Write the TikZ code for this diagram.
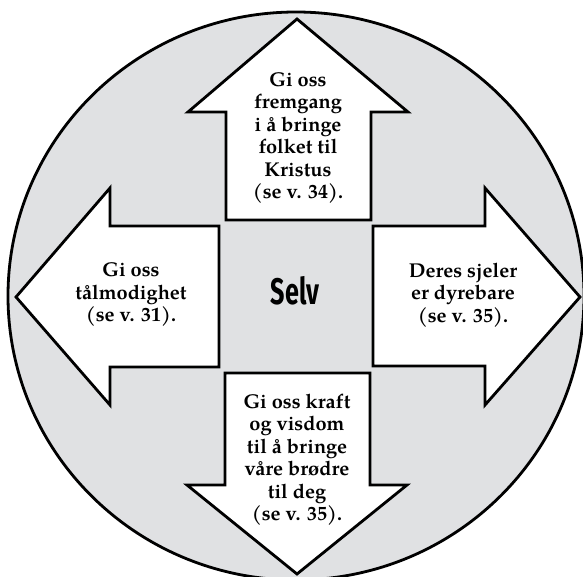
\documentclass[tikz,border=0pt]{standalone}
\usepackage{fontspec}
\setmainfont{texgyrepagella}[Extension=.otf, UprightFont=*-regular, BoldFont=*-bold]
\newfontfamily\selvfont[FakeStretch=0.68]{Fira Sans}
\definecolor{disc}{RGB}{224,225,227}

\begin{document}
\begin{tikzpicture}[x=1pt,y=-1pt,
    arrowshape/.style={fill=white,draw=black,line width=2.8pt},
    label/.style={align=center,font=\fontsize{20}{22.5}\selectfont\bfseries}]
    \useasboundingbox (0,0) rectangle (583,577);
    
    % Grey disc
    \filldraw[fill=disc,line width=2.8pt] (296,296) ellipse [x radius=288, y radius=284];
    
    % Four arrows
    \draw[arrowshape] (226,220) -- (226,112) -- (188,112) -- (297,19) -- (408,112) -- (371,112) -- (371,220) -- cycle;
    \draw[arrowshape] (225,373) -- (370,373) -- (370,485) -- (407,485) -- (297,574) -- (187,485) -- (225,485) -- cycle;
    \draw[arrowshape] (219,226) -- (110,226) -- (110,188) -- (16,297) -- (110,405) -- (110,367) -- (219,367) -- cycle;
    \draw[arrowshape] (373,226) -- (485,226) -- (485,188) -- (580,297) -- (485,405) -- (485,366) -- (373,366) -- cycle;
    
    % Labels
    \node[font=\selvfont\bfseries\fontsize{37}{40}\selectfont] (selv) at (295,291) {Selv};
    \node[label] (up) at (298,138) {Gi oss\\fremgang\\i å bringe\\folket til\\Kristus\\(se v. 34).};
    \node[label] (down) at (297,460) {Gi oss kraft\\og visdom\\til å bringe\\våre brødre\\til deg\\(se v. 35).};
    \node[label] (left) at (131,295) {Gi oss\\tålmodighet\\(se v. 31).};
    \node[label] (right) at (463,295) {Deres sjeler\\er dyrebare\\(se v. 35).};
\end{tikzpicture}
\end{document}
